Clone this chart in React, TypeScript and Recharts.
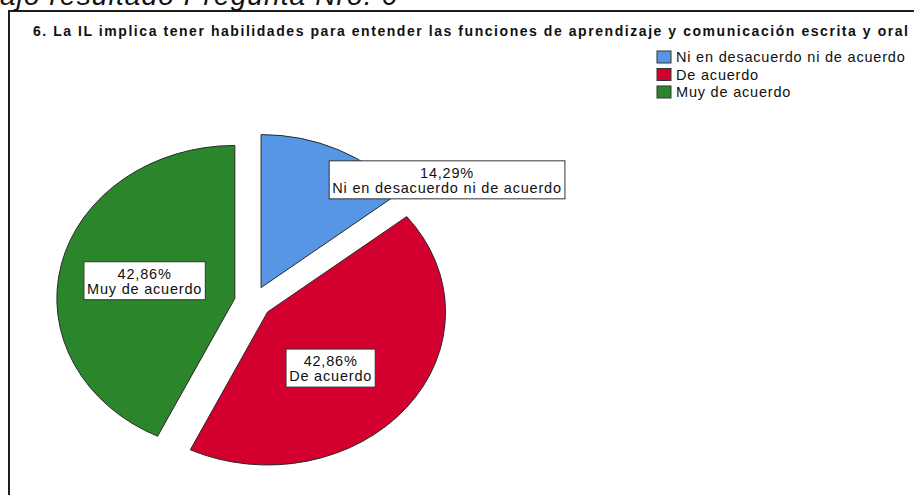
import React from 'react';
import { PieChart, Pie, Cell, Legend } from 'recharts';

const categories = ['Ni en desacuerdo ni de acuerdo', 'De acuerdo', 'Muy de acuerdo'];
const percentages = [14.29, 42.86, 42.86];
const colors = ['#5796E4', '#D3002F', '#2B862B'];
const titleText = '6. La IL implica tener habilidades para entender las funciones de aprendizaje y comunicación escrita y oral';
const captionText = 'ajo resultado Pregunta Nro. 6';

const data = categories.map((name, i) => ({ name, value: percentages[i] }));

const W = 914;
const H = 495;
const SX = 178 / 153; // horizontal stretch of the elliptical pie
const EXPLODE = 16;
const RAD = Math.PI / 180;
const FONT = '"Liberation Sans", Arial, sans-serif';
const LABEL_FONT_SIZE = 14.5;
const LETTER_SPACING = 0.8;
// label placement: radius fraction and angle shift (deg) per slice
const labelRadius = [1.26, 0.51, 0.52];
const labelAngleShift = [-30.3, -7.4, 0];

let ctx: CanvasRenderingContext2D | null = null;
function measure(text: string, size: number): number {
  if (!ctx) {
    const c = document.createElement('canvas');
    ctx = c.getContext('2d');
  }
  const base = ctx
    ? ((ctx.font = `${size}px "Liberation Sans", Arial, sans-serif`), ctx.measureText(text).width)
    : text.length * size * 0.5;
  return base + LETTER_SPACING * (text.length - 1);
}

function explodedCenter(cx: number, cy: number, mid: number) {
  return {
    ox: cx + EXPLODE * SX * Math.cos(-mid * RAD),
    oy: cy + EXPLODE * Math.sin(-mid * RAD),
  };
}

function renderSector(props: any) {
  const { cx, cy, outerRadius, startAngle, endAngle, fill } = props;
  const mid = (startAngle + endAngle) / 2;
  const { ox, oy } = explodedCenter(cx, cy, mid);
  const rx = outerRadius * SX;
  const ry = outerRadius;
  const x1 = ox + rx * Math.cos(-startAngle * RAD);
  const y1 = oy + ry * Math.sin(-startAngle * RAD);
  const x2 = ox + rx * Math.cos(-endAngle * RAD);
  const y2 = oy + ry * Math.sin(-endAngle * RAD);
  const large = Math.abs(startAngle - endAngle) > 180 ? 1 : 0;
  const d = `M${ox},${oy} L${x1},${y1} A${rx},${ry} 0 ${large} 1 ${x2},${y2} Z`;
  return <path d={d} fill={fill} stroke="#2a2a2a" strokeWidth={1} />;
}

function renderLabel(props: any) {
  const { cx, cy, outerRadius, startAngle, endAngle, index, name, value } = props;
  const mid = (startAngle + endAngle) / 2;
  const { ox, oy } = explodedCenter(cx, cy, mid);
  const a = mid + labelAngleShift[index];
  const r = outerRadius * labelRadius[index];
  const lx = ox + r * SX * Math.cos(-a * RAD);
  const ly = oy + r * Math.sin(-a * RAD);
  const pct = `${value.toFixed(2).replace('.', ',')}%`;
  const tw = Math.max(measure(name, LABEL_FONT_SIZE), measure(pct, LABEL_FONT_SIZE));
  const bw = tw + 7;
  const bh = 38;
  const ts = { letterSpacing: `${LETTER_SPACING}px` };
  return (
    <g>
      <rect x={lx - bw / 2} y={ly - bh / 2} width={bw} height={bh} fill="#fff" stroke="#333" strokeWidth={1} />
      <text x={lx} y={ly - 2} textAnchor="middle" fontFamily={FONT} fontSize={LABEL_FONT_SIZE} fill="#111" style={ts}>
        {pct}
      </text>
      <text x={lx} y={ly + 13} textAnchor="middle" fontFamily={FONT} fontSize={LABEL_FONT_SIZE} fill="#111" style={ts}>
        {name}
      </text>
    </g>
  );
}

function renderLegend(props: any) {
  const payload = [...(props.payload || [])].sort(
    (a: any, b: any) => categories.indexOf(a.value) - categories.indexOf(b.value)
  );
  return (
    <svg width={260} height={64} style={{ display: 'block' }}>
      {payload.map((p: any, i: number) => (
        <g key={i}>
          <rect x={2} y={5 + i * 17.5} width={14} height={12} fill={p.color} stroke="#333" strokeWidth={1} />
          <text
            x={21}
            y={16 + i * 17.5}
            fontFamily={FONT}
            fontSize={LABEL_FONT_SIZE}
            fill="#111"
            style={{ letterSpacing: `${LETTER_SPACING}px` }}
          >
            {p.value}
          </text>
        </g>
      ))}
    </svg>
  );
}

export default function App() {
  return (
    <div style={{ position: 'absolute', left: 0, top: 0, width: W, height: H, overflow: 'hidden', background: '#fff' }}>
      <div
        style={{
          position: 'absolute',
          left: 8,
          top: 10,
          width: 2000,
          height: 2000,
          borderLeft: '2px solid #1e1e1e',
          borderTop: '2px solid #1e1e1e',
        }}
      />
      <div style={{ position: 'absolute', left: 0, top: 0 }}>
        <PieChart width={W} height={H} margin={{ top: 0, right: 0, bottom: 0, left: 0 }}>
          <Pie
            data={data}
            dataKey="value"
            nameKey="name"
            cx={253}
            cy={302}
            outerRadius={153}
            startAngle={90}
            endAngle={-270}
            isAnimationActive={false}
            shape={renderSector}
            activeShape={renderSector}
            label={renderLabel}
            labelLine={false}
            stroke="#2a2a2a"
          >
            {data.map((d, i) => (
              <Cell key={d.name} fill={colors[i]} />
            ))}
          </Pie>
          <Legend
            layout="vertical"
            align="right"
            verticalAlign="middle"
            content={renderLegend}
            wrapperStyle={{ position: 'absolute', left: 655, top: 46, width: 260 }}
          />
        </PieChart>
      </div>
      <svg width={W} height={H} style={{ position: 'absolute', left: 0, top: 0, pointerEvents: 'none' }}>
        <text x={0} y={5} fontFamily={FONT} fontStyle="italic" fontSize={28} fill="#111" textLength={397} lengthAdjust="spacing">
          {captionText}
        </text>
        <text x={33} y={36} fontFamily={FONT} fontWeight="bold" fontSize={14} fill="#111" textLength={875} lengthAdjust="spacing">
          {titleText}
        </text>
      </svg>
    </div>
  );
}
